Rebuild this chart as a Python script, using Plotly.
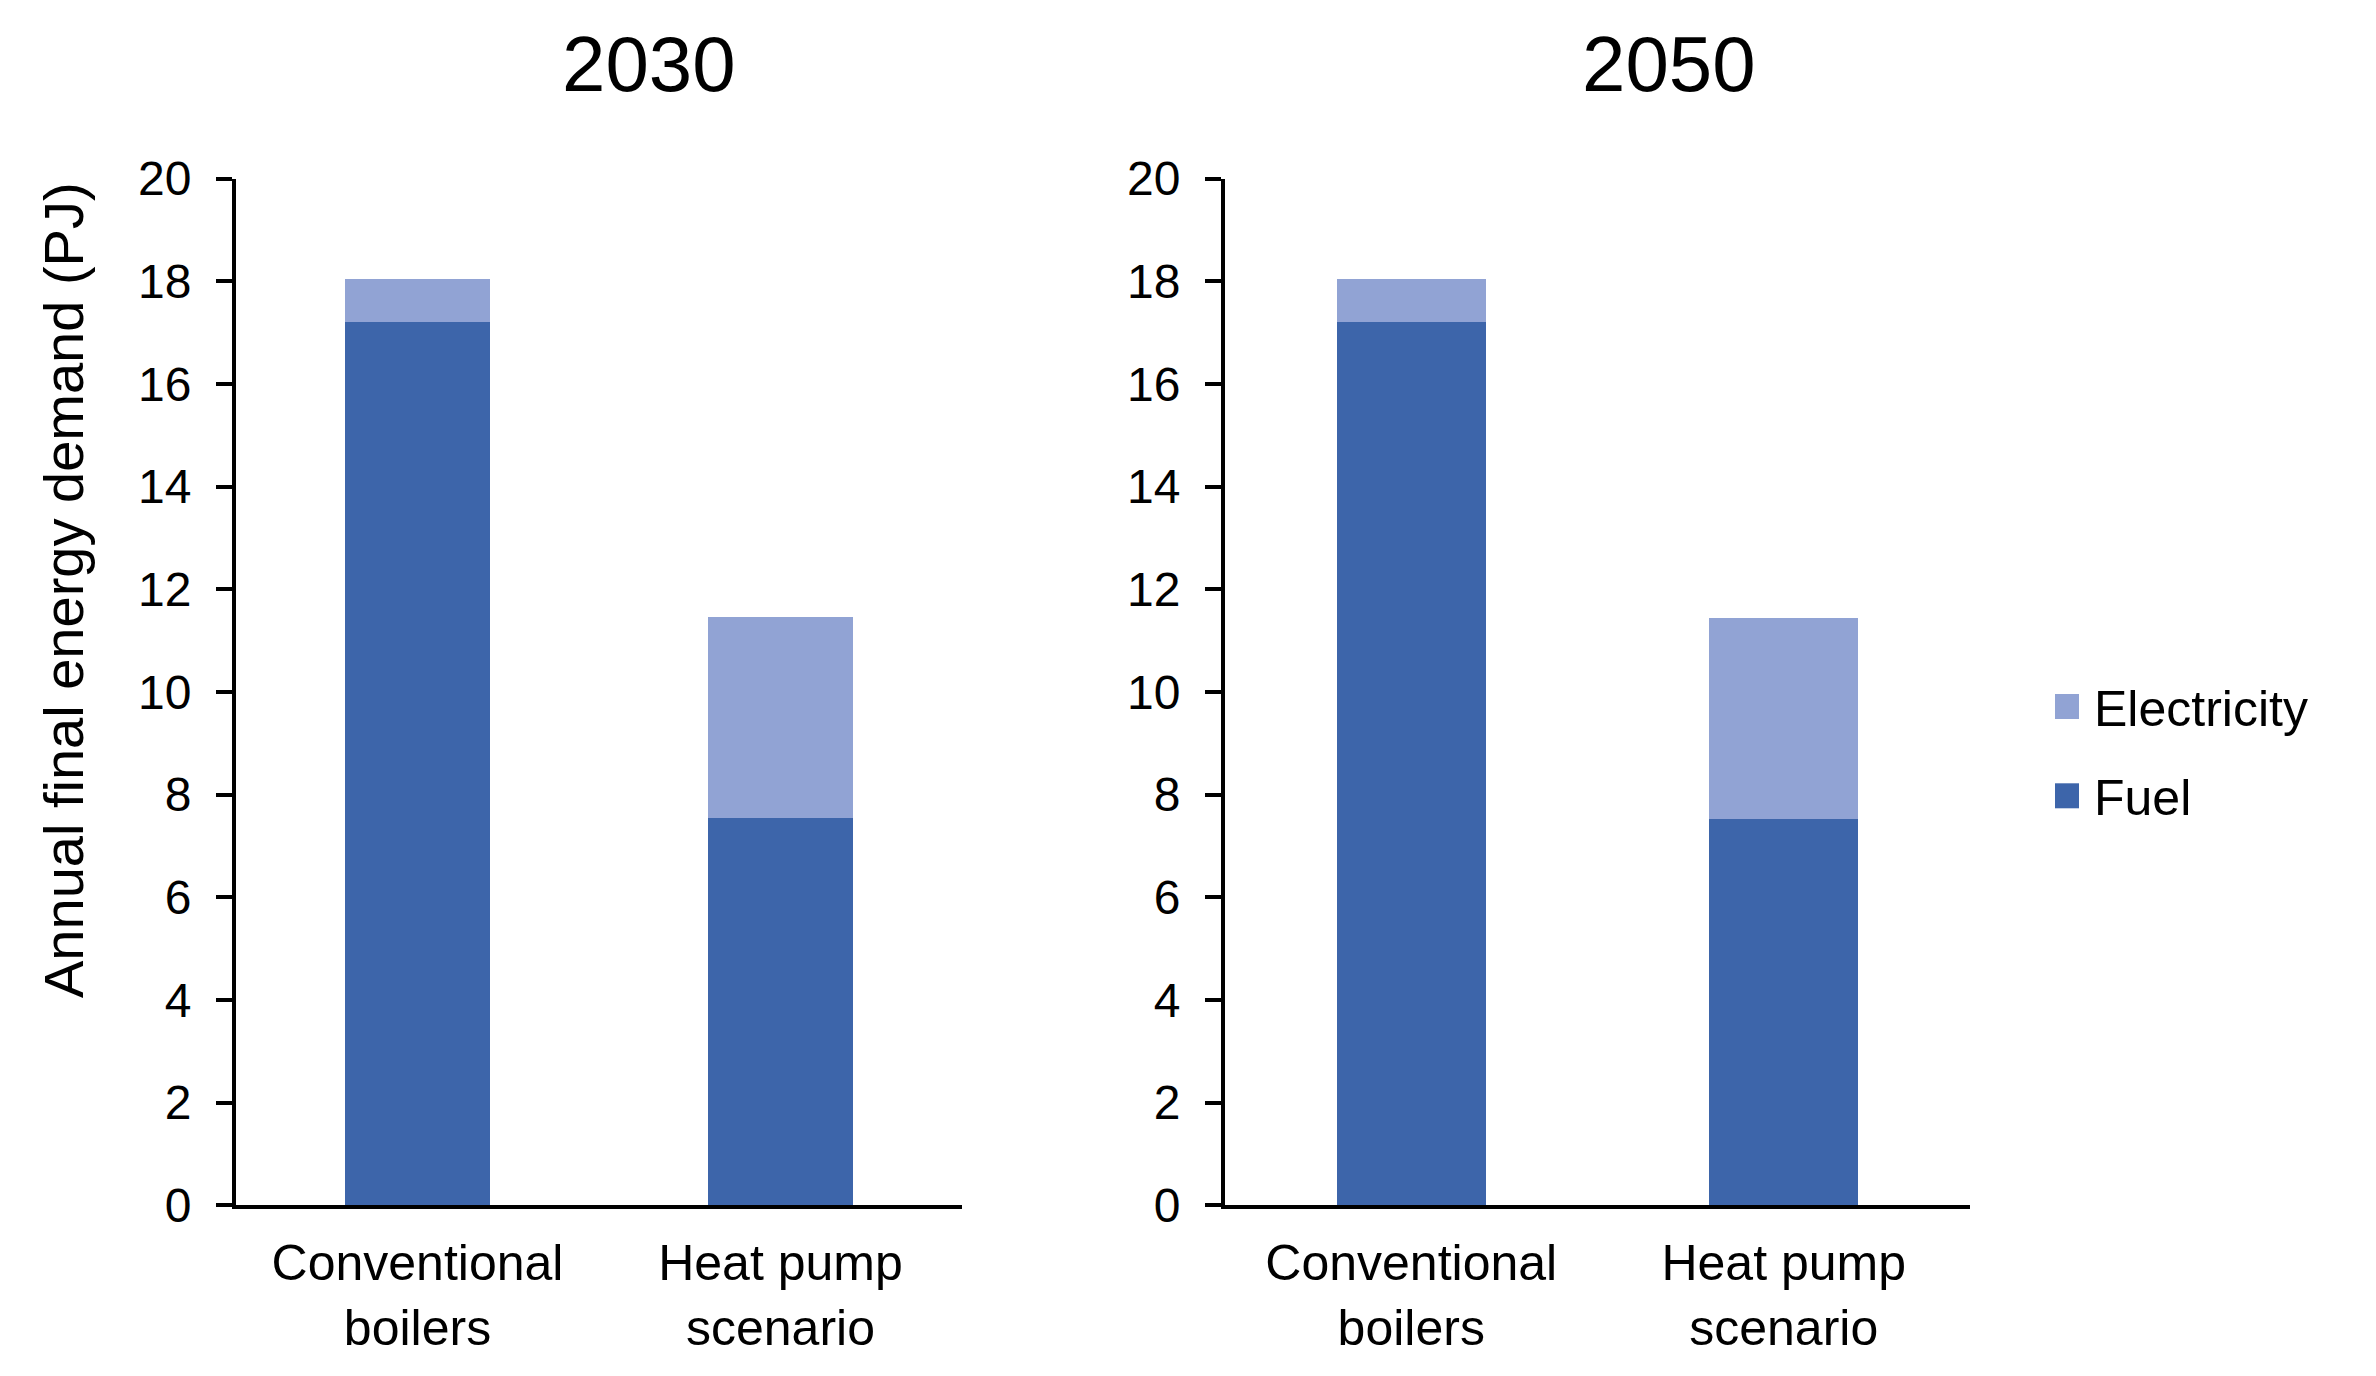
import plotly.graph_objects as go

# ---- data ----
categories = ["Conventional<br>boilers", "Heat pump<br>scenario"]
panel_titles = ["2030", "2050"]
series_names = ["Electricity", "Fuel"]
fuel_2030 = [17.2, 7.55]
elec_2030 = [0.85, 3.9]
fuel_2050 = [17.2, 7.53]
elec_2050 = [0.85, 3.9]
y_ticks = [0, 2, 4, 6, 8, 10, 12, 14, 16, 18, 20]
y_title = "Annual final energy demand (PJ)"

# ---- style ----
W, H = 2376, 1376
OFF = 8  # page body margin offset
FONT = "Liberation Sans, Arial, sans-serif"
C_FUEL = "#3D65AA"
C_ELEC = "#91A3D4"

def px(x):
    return (x - OFF) / W

def py(y):
    return 1 - (y - OFF) / H

fig = go.Figure()

panels = [
    ("x", "y", fuel_2030, elec_2030),
    ("x2", "y2", fuel_2050, elec_2050),
]
for xa, ya, fuel, elec in panels:
    fig.add_trace(go.Bar(x=categories, y=fuel, name=series_names[1], marker=dict(color=C_FUEL, line=dict(width=0)),
                         xaxis=xa, yaxis=ya, showlegend=False))
    fig.add_trace(go.Bar(x=categories, y=elec, name=series_names[0], marker=dict(color=C_ELEC, line=dict(width=0)),
                         xaxis=xa, yaxis=ya, showlegend=False))

ydom = [py(1205.3), py(178.5)]
xdoms = [[px(236), px(962)], [px(1225), px(1970)]]

axis_common_y = dict(range=[0, 20], tickvals=y_ticks, showgrid=False, zeroline=False,
                     showline=True, linecolor="black", linewidth=4,
                     ticks="outside", ticklen=16, tickwidth=4, tickcolor="black",
                     tickfont=dict(family=FONT, size=48, color="black"),
                     ticklabelstandoff=15, domain=ydom, fixedrange=True, automargin=False)
axis_common_x = dict(type="category", range=[-0.5, 1.5], showgrid=False, zeroline=False,
                     showline=True, linecolor="black", linewidth=4, ticks="",
                     tickfont=dict(family=FONT, size=50, color="black"),
                     ticklabelstandoff=11, fixedrange=True, automargin=False)

fig.update_layout(
    width=W, height=H,
    margin=dict(l=0, r=0, t=0, b=0, pad=0, autoexpand=False),
    paper_bgcolor="white", plot_bgcolor="white",
    barmode="stack", bargap=0.6,
    showlegend=False,
    font=dict(family=FONT, color="black"),
    xaxis=dict(axis_common_x, domain=xdoms[0], anchor="y"),
    yaxis=dict(axis_common_y, anchor="x"),
    xaxis2=dict(axis_common_x, domain=xdoms[1], anchor="y2"),
    yaxis2=dict(axis_common_y, anchor="x2"),
)

# panel titles
for title, xc in zip(panel_titles, [648.5, 1668.7]):
    fig.add_annotation(text=title, x=px(xc), y=py(64), xref="paper", yref="paper",
                       xanchor="center", yanchor="middle", showarrow=False,
                       font=dict(family=FONT, size=78, color="black"))

# y axis title
fig.add_annotation(text=y_title, x=px(63), y=py(590), xref="paper", yref="paper",
                   xanchor="center", yanchor="middle", textangle=-90, showarrow=False,
                   font=dict(family=FONT, size=56, color="black"))

# legend (drawn manually to match large square swatches)
legend_items = [(series_names[0], C_ELEC, 706.5), (series_names[1], C_FUEL, 795.8)]
for name, color, yc in legend_items:
    fig.add_shape(type="rect", xref="paper", yref="paper",
                  x0=px(2055), x1=px(2079), y0=py(yc - 12.5), y1=py(yc + 12.5),
                  fillcolor=color, line=dict(width=0))
    fig.add_annotation(text=name, x=px(2092), y=py(yc + 2), xref="paper", yref="paper",
                       xanchor="left", yanchor="middle", showarrow=False,
                       font=dict(family=FONT, size=50, color="black"))

fig.write_html("out.html")
